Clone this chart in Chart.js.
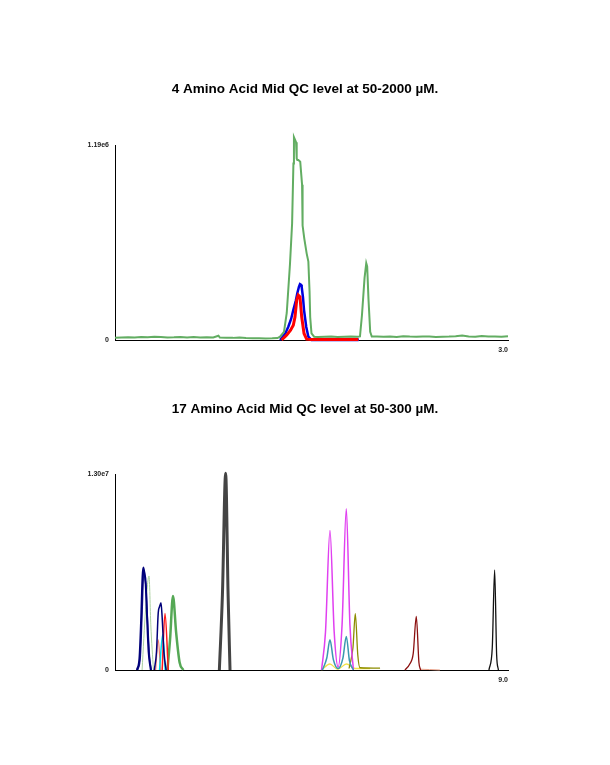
<!DOCTYPE html>
<html><head><meta charset="utf-8">
<script src="https://cdn.jsdelivr.net/npm/chart.js@4.4.1/dist/chart.umd.min.js"></script>
<style>
html,body{margin:0;padding:0;background:#fff;width:610px;height:765px;overflow:hidden}
canvas{position:absolute;left:0}
#c1{top:0}
#c2{top:380px}
</style></head><body>
<canvas id="c1" width="610" height="380"></canvas>
<canvas id="c2" width="610" height="385"></canvas>
<script>
// ---------- Chart 1: 4 amino acids ----------
const title1 = '4 Amino Acid Mid QC level at 50-2000 µM.';
const yMax1 = 1.19e6, yMaxLabel1 = '1.19e6', xMax1 = 3.0, xMaxLabel1 = '3.0';

const greenT = [0,0.05,0.1,0.15,0.2,0.25,0.3,0.35,0.4,0.45,0.5,0.55,0.6,0.65,0.7,0.75,0.79,0.8,0.85,0.9,0.95,1.0,1.05,1.1,1.15,1.2,1.24,
  1.26,1.29,1.311,1.336,1.352,1.362,1.366,1.374,1.382,1.387,1.392,1.40,1.414,1.428,1.432,1.445,1.463,1.476,1.485,1.49,1.50,1.52,
  1.55,1.6,1.65,1.7,1.75,1.8,1.85,1.87,1.885,1.905,1.918,1.925,1.935,1.948,1.96,
  2.0,2.05,2.1,2.15,2.2,2.25,2.3,2.35,2.4,2.45,2.5,2.55,2.6,2.65,2.7,2.75,2.8,2.85,2.9,2.95,3.0];
const greenV = [14000,16000,17000,15000,19000,17000,20000,18000,16000,17000,19000,16000,18000,15000,17000,16000,26000,15000,14000,13000,15000,12000,10000,11000,9000,10000,12000,
  20000,50000,165000,468000,714000,1080000,1240000,1225000,1210000,1110000,1100000,1100000,1090000,950000,700000,620000,530000,480000,300000,140000,40000,20000,
  19000,20000,21000,19000,20000,21000,20000,22000,150000,380000,470000,450000,250000,50000,21000,
  22000,20000,21000,19000,23000,21000,20000,22000,21000,19000,20000,21000,23000,27000,21000,20000,25000,22000,21000,20000,23000];

const blueT = [1.26,1.30,1.323,1.345,1.361,1.38,1.392,1.404,1.412,1.42,1.425,1.435,1.443,1.46,1.476,1.50,1.86];
const blueV = [0,40000,81000,130000,183000,240000,287000,325000,342000,338000,325000,260000,183000,80000,20000,0,0];

const redT = [1.272,1.311,1.34,1.361,1.374,1.387,1.399,1.412,1.425,1.443,1.463,1.50,1.857];
const redV = [0,30000,60000,90000,140000,244000,275000,264000,142000,40000,5000,3000,3000];

const purpleT = [1.52,1.70,1.862];
const purpleV = [4000,5000,5000];

// ---------- Chart 2: 17 amino acids ----------
const title2 = '17 Amino Acid Mid QC level at 50-300 µM.';
const yMax2 = 1.30e7, yMaxLabel2 = '1.30e7', xMax2 = 9.0, xMaxLabel2 = '9.0';

const navyAT = [0.50,0.56,0.60,0.63,0.649,0.675,0.70,0.73,0.77,0.82];
const navyAV = [0,800000,3500000,6200000,6810000,6400000,5900000,3800000,1200000,0];
const navyBT = [0.52,0.58,0.62,0.65,0.668,0.69,0.71,0.745,0.79,0.83];
const navyBV = [0,900000,3800000,6300000,6600000,6000000,5500000,3300000,900000,0];
const navyCT = [0.90,0.95,0.99,1.02,1.053,1.08,1.12,1.17];
const navyCV = [0,1200000,3800000,4200000,4470000,3500000,1200000,0];
const paleGreenT = [0.62,0.70,0.779,0.82,0.88];
const paleGreenV = [0,4000000,6250000,3000000,0];
const salmonT = [0.93,0.992,1.04];
const salmonV = [0,2010000,0];
const redBT = [1.08,1.145,1.22];
const redBV = [0,3750000,0];
const cyanT = [1.02,1.092,1.15];
const cyanV = [0,2350000,0];
const greenBT = [1.20,1.26,1.328,1.40,1.48,1.565];
const greenBV = [0,2000000,4910000,2500000,500000,0];
const greyT = [2.39,2.46,2.534,2.59,2.634];
const greyV = [0,5000000,13070000,5000000,0];
const magentaT = [4.73,4.82,4.923,5.02,5.11,5.20,5.297,5.38,5.46];
const magentaV = [0,2500000,9270000,2500000,200000,3000000,10720000,3000000,0];
const tealT = [4.75,4.85,4.923,5.0,5.11,5.22,5.297,5.37,5.46];
const tealV = [0,800000,2010000,700000,100000,800000,2230000,600000,0];
const oliveT = [5.36,5.45,5.503,5.56,5.61,6.07];
const oliveV = [100000,1500000,3750000,1000000,150000,120000];
const yellowT = [4.73,4.92,5.1,5.3,5.5,5.84];
const yellowV = [0,400000,50000,400000,100000,100000];
const maroonT = [6.64,6.75,6.83,6.9,6.96,7.0];
const maroonV = [0,400000,1100000,3570000,500000,0];
const paleSalmonT = [7.0,7.2,7.44];
const paleSalmonV = [50000,30000,0];
const blackT = [8.564,8.64,8.694,8.74,8.78];
const blackV = [0,1500000,6650000,1000000,0];

// ---------- helpers ----------
const FONT = '"Liberation Sans", Arial, Helvetica, sans-serif';
const pts = (xs, ys) => xs.map((x, i) => ({x: x, y: ys[i]}));
function ds(xs, ys, color, width, smooth) {
  return {data: pts(xs, ys), borderColor: color, borderWidth: width, pointRadius: 0,
    fill: false, clip: false, tension: 0, cubicInterpolationMode: smooth ? 'monotone' : 'default'};
}
function makeChart(id, title, padTop, padBottom, yMax, yLabel, xMax, xLabel, xAxisH, datasets) {
  return new Chart(document.getElementById(id), {
    type: 'line',
    data: {datasets: datasets},
    options: {
      responsive: false, animation: false, devicePixelRatio: 1,
      layout: {padding: 0},
      plugins: {
        legend: {display: false}, tooltip: {enabled: false},
        title: {display: true, text: title, color: '#000',
          font: {family: FONT, size: 13.5, weight: 'bold'}, padding: {top: padTop, bottom: padBottom}}
      },
      scales: {
        x: {type: 'linear', min: 0, max: xMax,
          grid: {display: false, drawTicks: false},
          border: {display: true, color: '#000', width: 1},
          afterBuildTicks: s => { s.ticks = [{value: xMax}]; },
          afterFit: s => { s.height = xAxisH; },
          ticks: {align: 'end', padding: 6, color: '#222', maxRotation: 0,
            font: {family: FONT, size: 7, weight: 'bold'}, callback: () => xLabel}
        },
        y: {type: 'linear', min: 0, max: yMax,
          grid: {display: false, drawTicks: false},
          border: {display: true, color: '#000', width: 1},
          afterBuildTicks: s => { s.ticks = [{value: 0}, {value: yMax}]; },
          afterFit: s => { s.width = 115; },
          ticks: {padding: 6, color: '#222',
            font: {family: FONT, size: 7, weight: 'bold'},
            callback: v => (v === 0 ? '0' : yLabel)}
        },
        yRight: {type: 'linear', position: 'right', min: 0, max: yMax,
          grid: {display: false, drawTicks: false},
          border: {display: false},
          ticks: {display: false},
          afterFit: s => { s.width = 102; }
        }
      }
    }
  });
}

makeChart('c1', title1, 81.6, 47.6, yMax1, yMaxLabel1, xMax1, xMaxLabel1, 40, [
  ds(greenT, greenV, '#62ad62', 2, false),
  ds(redT, redV, '#ff0000', 3, false),
  ds(blueT, blueV, '#0000dd', 2.5, false),
  ds(purpleT, purpleV, '#b07ad0', 3, false)
]);

makeChart('c2', title2, 21.6, 56.6, yMax2, yMaxLabel2, xMax2, xMaxLabel2, 95, [
  ds(navyAT, navyAV, '#00007a', 2, true),
  ds(navyBT, navyBV, '#1a1a8c', 1.5, true),
  ds(navyCT, navyCV, '#00007a', 1.5, true),
  ds(paleGreenT, paleGreenV, '#a9cf9f', 1, true),
  ds(redBT, redBV, '#ff1a1a', 1.5, true),
  ds(cyanT, cyanV, '#00d8e8', 1.5, true),
  ds(salmonT, salmonV, '#f07a6a', 1.2, true),
  ds(greenBT, greenBV, '#55a855', 2.5, true),
  ds(greyT, greyV, '#444444', 3, true),
  ds(tealT, tealV, '#3a98b0', 1.5, true),
  ds(magentaT, magentaV, '#e040f0', 1.5, true),
  ds(oliveT, oliveV, '#8c8c00', 1.3, true),
  ds(yellowT, yellowV, '#f2e24a', 1.3, true),
  ds(maroonT, maroonV, '#8b1010', 1.3, true),
  ds(paleSalmonT, paleSalmonV, '#e8a088', 1, true),
  ds(blackT, blackV, '#111111', 1.3, true)
]);
</script>
</body></html>
